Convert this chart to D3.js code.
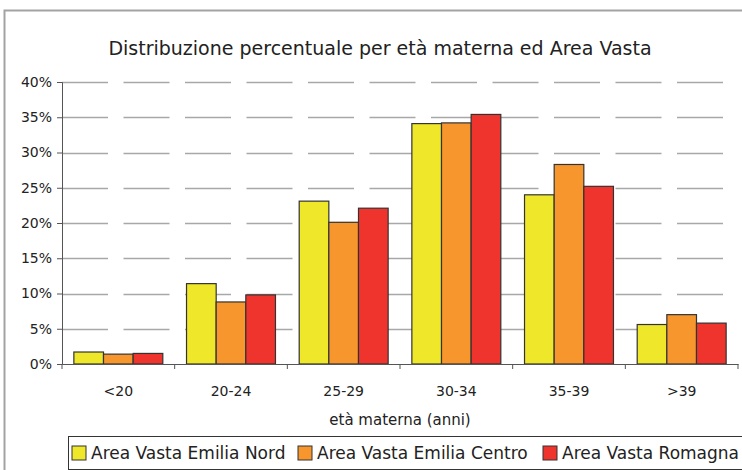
<!DOCTYPE html>
<html lang="it">
<head>
<meta charset="utf-8">
<script src="https://d3js.org/d3.v7.min.js"></script>
<style>
  body { margin: 0; background: #fff; }
  text { font-family: "DejaVu Sans", "Open Sans", sans-serif; fill: #222; }
</style>
</head>
<body>
<div id="chart"></div>
<script>
var categories = ["<20", "20-24", "25-29", "30-34", "35-39", ">39"];
var seriesNames = ["Area Vasta Emilia Nord", "Area Vasta Emilia Centro", "Area Vasta Romagna"];
var emiliaNord   = [1.7, 11.4, 23.1, 34.1, 24.0, 5.6];
var emiliaCentro = [1.4,  8.8, 20.1, 34.2, 28.3, 7.0];
var romagna      = [1.5,  9.8, 22.1, 35.4, 25.2, 5.8];
var yTicks = [0, 5, 10, 15, 20, 25, 30, 35, 40];
var colors = ["#efe82a", "#f7962d", "#ee342c"];

var series = [emiliaNord, emiliaCentro, romagna];

var width = 742, height = 470;
var margin = {left: 62, right: 4, top: 82, bottom: 106};

var svg = d3.select("#chart").append("svg")
    .attr("width", width)
    .attr("height", height);

// outer frame (cut by the window on right and bottom)
svg.append("rect")
    .attr("x", 4.5).attr("y", 10.5)
    .attr("width", 760).attr("height", 480)
    .attr("fill", "none")
    .attr("stroke", "#a3a3a3")
    .attr("stroke-width", 2);

svg.append("text")
    .attr("x", 380).attr("y", 55)
    .attr("text-anchor", "middle")
    .style("font-size", "19px")
    .text("Distribuzione percentuale per età materna ed Area Vasta");

var x0 = d3.scaleBand()
    .domain(categories)
    .range([margin.left, width - margin.right])
    .padding(0);

var x1 = d3.scaleBand()
    .domain(d3.range(series.length))
    .range([0, x0.bandwidth()])
    .paddingOuter(0.4)
    .paddingInner(0);

var y = d3.scaleLinear()
    .domain([0, 40])
    .range([height - margin.bottom, margin.top]);

// gridlines
svg.append("g")
  .selectAll("line")
  .data(yTicks.filter(function(d) { return d > 0; }))
  .enter().append("line")
    .attr("x1", margin.left).attr("x2", width - margin.right)
    .attr("y1", function(d) { return Math.round(y(d)) + 0.5; })
    .attr("y2", function(d) { return Math.round(y(d)) + 0.5; })
    .attr("stroke", "#a8a8a8")
    .attr("stroke-width", 1.5)
    .attr("stroke-dasharray", "46,15.5");

// bars
var groups = svg.append("g")
  .selectAll("g")
  .data(categories)
  .enter().append("g")
    .attr("transform", function(d) { return "translate(" + x0(d) + ",0)"; });

groups.selectAll("rect")
  .data(function(d, i) { return series.map(function(s, j) { return {s: j, v: s[i]}; }); })
  .enter().append("rect")
    .attr("x", function(d) { return x1(d.s); })
    .attr("width", x1.bandwidth())
    .attr("y", function(d) { return y(d.v); })
    .attr("height", function(d) { return y(0) - y(d.v); })
    .attr("fill", function(d) { return colors[d.s]; })
    .attr("stroke", "#333")
    .attr("stroke-width", 1.2);

// y axis
var yAxis = svg.append("g")
    .attr("transform", "translate(" + margin.left + ",0)")
    .call(d3.axisLeft(y).tickValues(yTicks).tickSize(5).tickPadding(5)
      .tickFormat(function(d) { return d + "%"; }));
yAxis.selectAll("text").style("font-size", "14px");

// x axis
var xAxis = svg.append("g")
    .attr("transform", "translate(0," + y(0) + ")")
    .call(d3.axisBottom(x0).tickSize(0).tickPadding(22));
xAxis.selectAll("text").style("font-size", "14px");
xAxis.selectAll(".tick-sep")
  .data(d3.range(categories.length + 1))
  .enter().append("line")
    .attr("x1", function(i) { return margin.left + i * x0.step(); })
    .attr("x2", function(i) { return margin.left + i * x0.step(); })
    .attr("y1", 0).attr("y2", 5)
    .attr("stroke", "#555");

svg.selectAll(".domain, .tick line").attr("stroke", "#555");

svg.append("text")
    .attr("x", 400).attr("y", 425)
    .attr("text-anchor", "middle")
    .style("font-size", "15px")
    .text("età materna (anni)");

// legend
var legend = svg.append("g");
legend.append("rect")
    .attr("x", 68.5).attr("y", 436.5)
    .attr("width", 700).attr("height", 33)
    .attr("fill", "#fff")
    .attr("stroke", "#333");

var legX = [72, 298, 543];
var item = legend.selectAll(".item")
  .data(seriesNames)
  .enter().append("g")
    .attr("transform", function(d, i) { return "translate(" + legX[i] + ",446)"; });
item.append("rect")
    .attr("width", 14).attr("height", 14)
    .attr("fill", function(d, i) { return colors[i]; })
    .attr("stroke", "#333");
item.append("text")
    .attr("x", 19).attr("y", 13)
    .style("font-size", "17px")
    .text(function(d) { return d; });
</script>
</body>
</html>
